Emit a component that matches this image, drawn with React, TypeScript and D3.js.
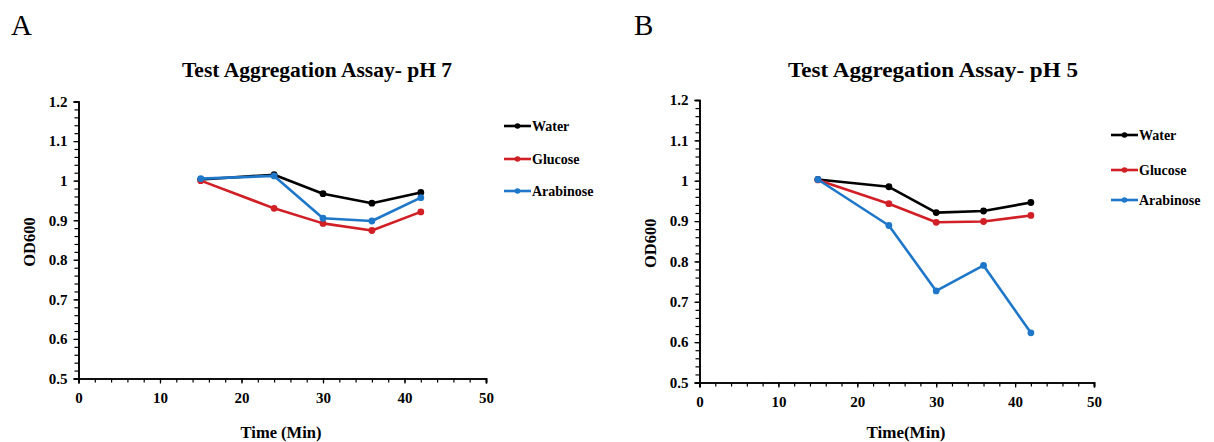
import React, { useEffect, useRef } from 'react';
import * as d3 from 'd3';

const times = [15, 24, 30, 36, 42];
const seriesNames = ['Water', 'Glucose', 'Arabinose'];
const seriesColors = ['#000000', '#d11f26', '#1f77c9'];

const ph7Water = [1.003, 1.015, 0.967, 0.943, 0.97];
const ph7Glucose = [1.0, 0.93, 0.892, 0.874, 0.921];
const ph7Arabinose = [1.005, 1.012, 0.905, 0.898, 0.957];

const ph5Water = [1.003, 0.985, 0.921, 0.925, 0.946];
const ph5Glucose = [1.002, 0.943, 0.897, 0.899, 0.914];
const ph5Arabinose = [1.003, 0.889, 0.727, 0.79, 0.623];

const xTicks = [0, 10, 20, 30, 40, 50];
const yTicks = [0.5, 0.6, 0.7, 0.8, 0.9, 1.0, 1.1, 1.2];

const FONT = '"Liberation Serif", "Times New Roman", serif';

type PanelProps = {
  letter: string;
  title: string;
  xLabel: string;
  values: number[][];
  left: number;
  right: number;
  top: number;
  bottom: number;
  titleX: number;
  titleW: number;
  xLabelX: number;
  xLabelSize: number;
  legendX: number;
  legendY: number[];
  letterX: number;
};

function Panel(props: PanelProps) {
  const gRef = useRef<SVGGElement>(null);
  const { left, right, top, bottom } = props;

  useEffect(() => {
    const g = d3.select(gRef.current);
    g.selectAll('*').remove();

    const x = d3.scaleLinear().domain([0, 50]).range([left, right]);
    const y = d3.scaleLinear().domain([0.5, 1.2]).range([bottom, top]);

    // minor ticks
    const xMinor = d3.range(0, 50.01, 2);
    const yMinor = d3.range(0.5, 1.2001, 0.02);

    const xAxis = g.append('g').attr('transform', `translate(0,${bottom})`);
    xAxis.call(d3.axisBottom(x).tickValues(xMinor).tickSize(4).tickFormat(() => ''));
    xAxis.append('g').call(d3.axisBottom(x).tickValues(xTicks).tickSize(5).tickPadding(9).tickFormat(d3.format('d')));

    const yAxis = g.append('g').attr('transform', `translate(${left},0)`);
    yAxis.call(d3.axisLeft(y).tickValues(yMinor).tickSize(4).tickFormat(() => ''));
    yAxis.append('g').call(
      d3.axisLeft(y).tickValues(yTicks).tickSize(5).tickPadding(6)
        .tickFormat((v) => String(+(+v).toFixed(1)))
    );

    g.selectAll('.domain').attr('stroke', '#000').attr('stroke-width', 1.6);
    g.selectAll('.tick line').attr('stroke', '#000').attr('stroke-width', 1.2);
    g.selectAll('.tick text')
      .attr('font-family', FONT)
      .attr('font-weight', 'bold')
      .attr('font-size', 15)
      .attr('fill', '#000');

    const line = d3.line<number>()
      .x((_, i) => x(times[i]))
      .y((d) => y(d));

    props.values.forEach((vals, s) => {
      g.append('path')
        .datum(vals)
        .attr('d', line)
        .attr('fill', 'none')
        .attr('stroke', seriesColors[s])
        .attr('stroke-width', 2.6)
        .attr('stroke-linejoin', 'round');
      g.selectAll(null)
        .data(vals)
        .enter()
        .append('circle')
        .attr('cx', (_, i) => x(times[i]))
        .attr('cy', (d) => y(d))
        .attr('r', 3.4)
        .attr('fill', seriesColors[s]);
    });

    // legend
    seriesNames.forEach((name, s) => {
      const ly = props.legendY[s];
      const lg = g.append('g');
      lg.append('line')
        .attr('x1', props.legendX).attr('x2', props.legendX + 27)
        .attr('y1', ly).attr('y2', ly)
        .attr('stroke', seriesColors[s]).attr('stroke-width', 2.6);
      lg.append('circle')
        .attr('cx', props.legendX + 13.5).attr('cy', ly).attr('r', 2.8)
        .attr('fill', seriesColors[s]);
      lg.append('text')
        .attr('x', props.legendX + 28).attr('y', ly + 5)
        .attr('font-family', FONT).attr('font-weight', 'bold').attr('font-size', 14)
        .text(name);
    });
  }, [props]);

  return (
    <g>
      <text x={props.letterX} y={35} fontFamily={FONT} fontSize={29}>{props.letter}</text>
      <text x={props.titleX} y={77} fontFamily={FONT} fontWeight="bold" fontSize={22}
        textLength={props.titleW} lengthAdjust="spacingAndGlyphs">{props.title}</text>
      <text transform={`translate(${left - 44},${(top + bottom) / 2 + 2}) rotate(-90)`}
        textAnchor="middle" fontFamily={FONT} fontWeight="bold" fontSize={16.5}>OD600</text>
      <text x={props.xLabelX} y={438} textAnchor="middle" fontFamily={FONT} fontWeight="bold"
        fontSize={props.xLabelSize}>{props.xLabel}</text>
      <g ref={gRef} />
    </g>
  );
}

export default function App() {
  return (
    <svg width={1214} height={442} style={{ position: 'absolute', left: 0, top: 0, background: '#fff' }}>
      <rect width={1214} height={442} fill="#fff" />
      <Panel
        letter="A"
        title="Test Aggregation Assay- pH 7"
        xLabel="Time (Min)"
        values={[ph7Water, ph7Glucose, ph7Arabinose]}
        left={78.5}
        right={486}
        top={101.5}
        bottom={378.5}
        titleX={182}
        titleW={270}
        xLabelX={281}
        xLabelSize={16.5}
        legendX={504}
        legendY={[126, 159, 191]}
        letterX={11}
      />
      <Panel
        letter="B"
        title="Test Aggregation Assay- pH 5"
        xLabel="Time(Min)"
        values={[ph5Water, ph5Glucose, ph5Arabinose]}
        left={699.5}
        right={1094}
        top={100}
        bottom={382.5}
        titleX={788}
        titleW={290}
        xLabelX={906}
        xLabelSize={17}
        legendX={1111}
        legendY={[135, 170, 200]}
        letterX={634}
      />
    </svg>
  );
}
